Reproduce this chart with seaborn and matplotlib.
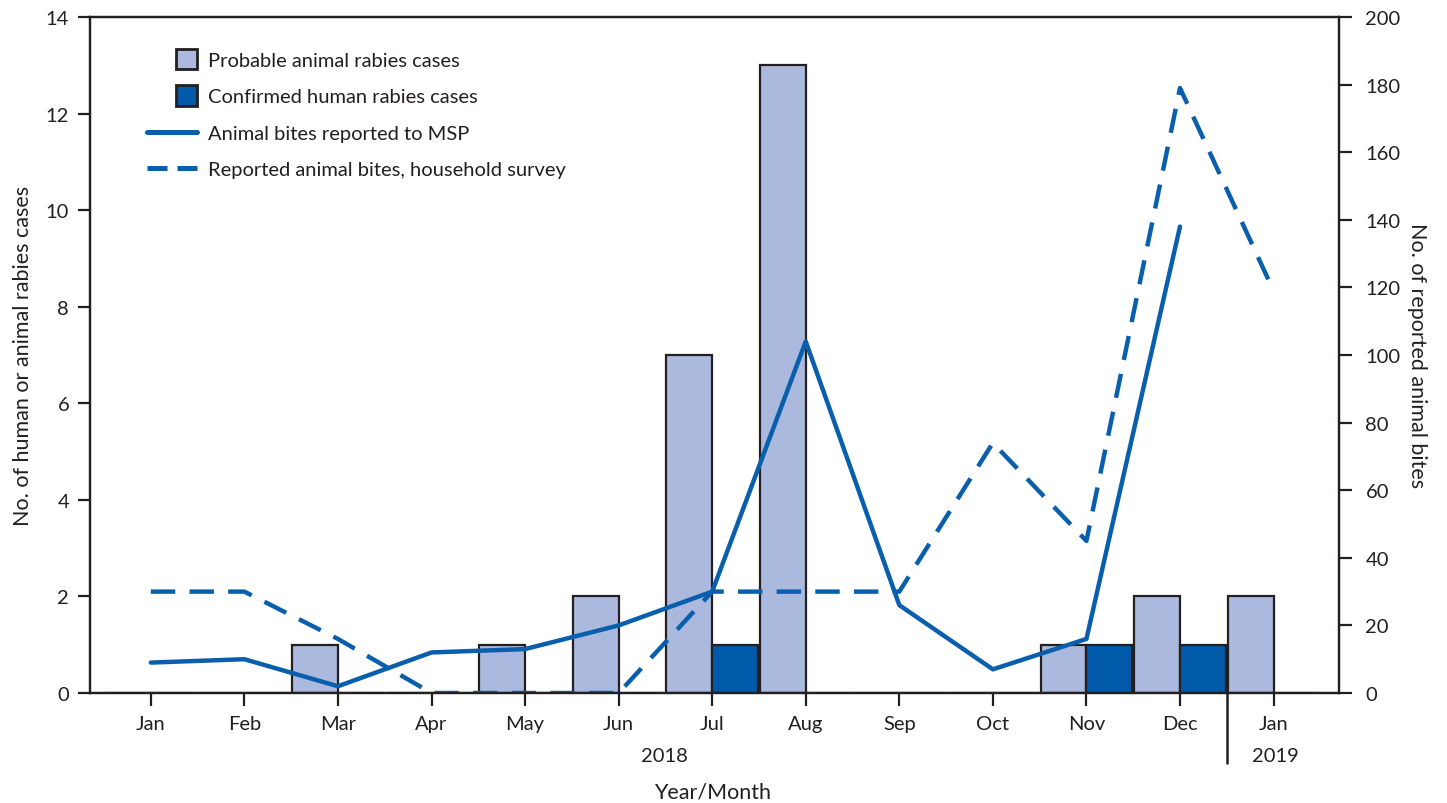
import seaborn as sns
import matplotlib.pyplot as plt
import matplotlib.patches as mpatches
import matplotlib.lines as mlines
from matplotlib.legend_handler import HandlerPatch
import pandas as pd
import numpy as np

# data
months = ['Jan', 'Feb', 'Mar', 'Apr', 'May', 'Jun', 'Jul', 'Aug', 'Sep', 'Oct', 'Nov', 'Dec', 'Jan']
probable_animal = [0, 0, 1, 0, 1, 2, 7, 13, 0, 0, 1, 2, 2]
confirmed_human = [0, 0, 0, 0, 0, 0, 1, 0, 0, 0, 1, 1, 0]
bites_msp = [9, 10, 2, 12, 13, 20, 30, 104, 26, 7, 16, 138]
bites_survey = [30, 30, 16, 0, 0, 0, 30, 30, 30, 74, 45, 179, 119]

LIGHT = '#aab9dd'
DARK = '#005aa9'
LINE = '#0a5fad'
EDGE = '#231f20'
FS = 14.5


def square_handle(legend, orig_handle, xdescent, ydescent, width, height, fontsize):
    # square box, pushed to the right end of the handle area
    side = 15
    return mpatches.Rectangle((-xdescent + width - side, -ydescent + (height - side) / 2), side, side)


def main():
    sns.set_theme(style="ticks")
    plt.rcParams['font.family'] = ['Lato', 'DejaVu Sans']
    plt.rcParams['axes.edgecolor'] = EDGE
    plt.rcParams['axes.linewidth'] = 1.6
    plt.rcParams['text.color'] = EDGE

    pos = np.arange(len(months))
    bars = pd.DataFrame({
        'pos': np.concatenate([pos, pos]),
        'count': probable_animal + confirmed_human,
        'type': ['Probable animal rabies cases'] * len(pos) + ['Confirmed human rabies cases'] * len(pos),
    })

    fig = plt.figure(figsize=(14.47, 8.04), dpi=100)
    ax = fig.add_axes([0.0622, 0.1368, 0.8632, 0.8408])

    sns.barplot(data=bars, x='pos', y='count', hue='type', native_scale=True,
                width=0.98, dodge=True, palette=[LIGHT, DARK], saturation=1,
                edgecolor=EDGE, linewidth=1.6, legend=False, ax=ax)

    ax.set_xlim(-0.65, 12.7)
    ax.set_ylim(0, 14)
    ax.set_yticks(np.arange(0, 15, 2))
    ax.set_xticks(pos)
    ax.set_xticklabels(months)
    ax.set_xlabel('')
    ax.set_ylabel('No. of human or animal rabies cases', fontsize=15.5, labelpad=9, color=EDGE)
    ax.tick_params(axis='both', labelsize=FS, length=9, width=1.6, color=EDGE, labelcolor=EDGE)
    ax.tick_params(axis='x', pad=7)
    ax.tick_params(axis='y', pad=6)
    for s in ax.spines.values():
        s.set_visible(True)
        s.set_color(EDGE)

    ax2 = ax.twinx()
    msp = pd.DataFrame({'pos': pos[:len(bites_msp)], 'bites': bites_msp})
    survey = pd.DataFrame({'pos': pos, 'bites': bites_survey})
    sns.lineplot(data=msp, x='pos', y='bites', color=LINE, linewidth=3.2, ax=ax2)
    sns.lineplot(data=survey, x='pos', y='bites', color=LINE, linewidth=3.2, ax=ax2)
    ax2.lines[-1].set_dashes((5.5, 3.2))
    ax2.set_ylim(0, 200)
    ax2.set_yticks(np.arange(0, 201, 20))
    ax2.set_xlim(-0.65, 12.7)
    ax2.set_xlabel('')
    ax2.set_ylabel('No. of reported animal bites', fontsize=15.5, rotation=270, labelpad=19, color=EDGE)
    ax2.tick_params(axis='y', labelsize=FS, length=9, width=1.6, color=EDGE, labelcolor=EDGE, pad=10)
    for s in ax2.spines.values():
        s.set_color(EDGE)

    # year labels under the month ticks
    xt = ax.get_xaxis_transform()
    ax.text(5.49, -0.093, '2018', transform=xt, ha='center', va='center', fontsize=FS)
    ax.text(12.02, -0.093, '2019', transform=xt, ha='center', va='center', fontsize=FS)
    ax.plot([11.5, 11.5], [0, -0.103], transform=xt, color=EDGE, linewidth=1.8, clip_on=False)
    fig.text(713 / 1447, 1 - 793 / 804, 'Year/Month', ha='center', va='center', fontsize=15.5)

    handles = [
        mpatches.Patch(facecolor=LIGHT, edgecolor=EDGE, linewidth=2, label='Probable animal rabies cases'),
        mpatches.Patch(facecolor=DARK, edgecolor=EDGE, linewidth=2, label='Confirmed human rabies cases'),
        mlines.Line2D([], [], color=LINE, linewidth=3.6, label='Animal bites reported to MSP'),
        mlines.Line2D([], [], color=LINE, linewidth=3.6, dashes=(4, 2), label='Reported animal bites, household survey'),
    ]
    ax2.legend(handles=handles, loc='upper left', bbox_to_anchor=(0.031, 0.975), frameon=False,
               fontsize=FS, handlelength=2.5, labelspacing=0.95, handletextpad=0.55,
               handler_map={mpatches.Patch: HandlerPatch(patch_func=square_handle)})

    fig.savefig('out.png', dpi=100)


if __name__ == "__main__":
    main()
